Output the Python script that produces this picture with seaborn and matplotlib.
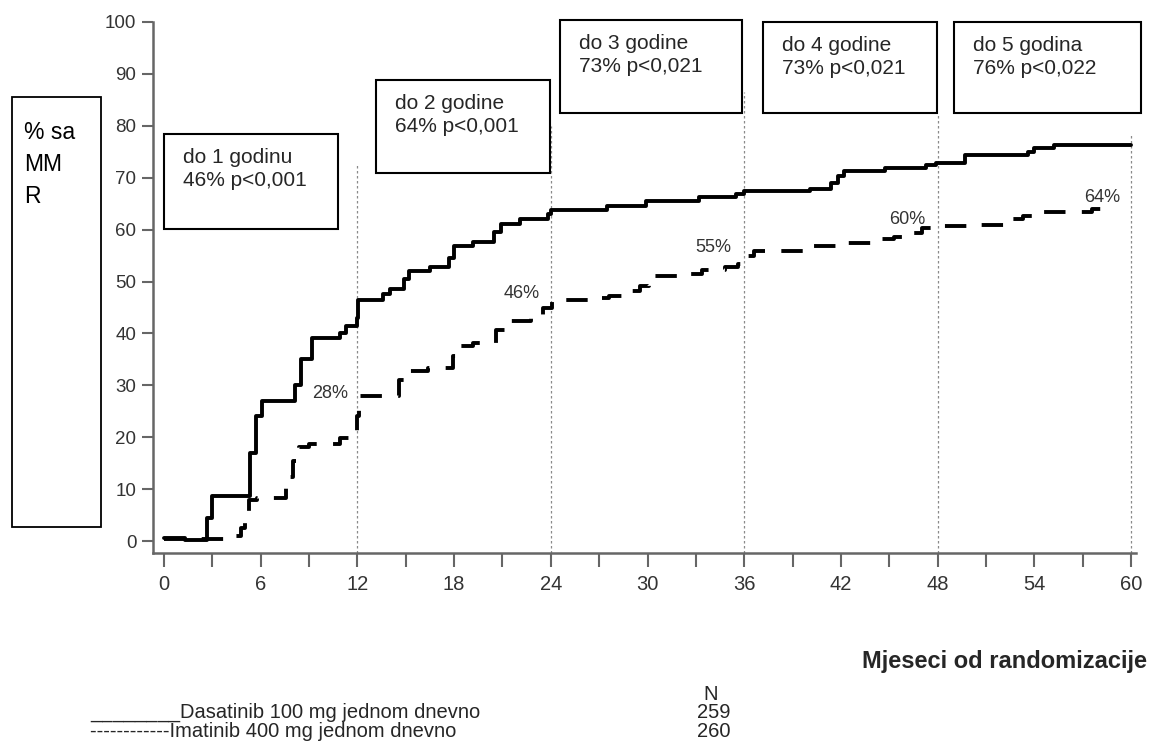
#!/usr/bin/env python3
"""MMR curve, dasatinib vs imatinib, recreated with seaborn."""

import matplotlib

matplotlib.use("Agg")
import matplotlib.pyplot as plt
from matplotlib.patches import Rectangle
import pandas as pd
import seaborn as sns

W, H = 1151, 744

# step curve (months, % with MMR)
das_months = [0, 1.3, 2.7, 3.0, 5.35, 5.7, 6.1, 8.1, 8.5, 9.2, 10.9, 11.3,
              11.95, 12.05, 13.6, 14.0, 14.9, 15.2, 16.5, 17.7, 18.0, 19.2,
              20.5, 20.9, 22.1, 23.8, 24.0, 27.5, 29.9, 33.2, 35.5, 36.0,
              40.1, 41.4, 41.8, 42.2, 44.7, 47.3, 47.9, 49.7, 53.6, 54.0,
              55.2, 60.0]
das_pct = [0.5, 0.2, 4.5, 8.6, 17.0, 24.0, 26.9, 30.0, 35.0, 39.1, 40.1, 41.4,
           43.0, 46.5, 47.5, 48.6, 50.5, 52.0, 52.8, 54.5, 56.8, 57.6,
           59.5, 61.1, 62.0, 63.0, 63.7, 64.5, 65.5, 66.3, 66.8, 67.4,
           67.9, 69.0, 70.3, 71.2, 71.8, 72.4, 72.9, 74.3, 75.0, 75.8,
           76.3, 76.3]

ima_months = [0, 4.3, 4.8, 5.0, 5.3, 5.8, 7.6, 8.0, 8.4, 9.0, 10.9, 11.6,
              12.0, 12.1, 14.6, 15.2, 16.4, 17.9, 18.4, 19.2, 20.6, 21.2,
              22.8, 23.5, 24.1, 26.9, 27.6, 28.8, 29.5, 30.1, 32.7, 33.4,
              34.8, 35.6, 36.0, 36.6, 40.1, 42.2, 44.5, 45.3, 46.3, 47.0,
              48.1, 50.6, 52.7, 53.3, 54.5, 57.6, 58.5]
ima_pct = [0.4, 1.0, 2.5, 5.0, 7.9, 8.3, 12.4, 15.5, 18.2, 18.7, 19.8, 20.8,
           24.0, 28.0, 31.1, 32.7, 33.3, 35.6, 37.5, 38.2, 40.7, 42.3,
           43.5, 44.9, 46.4, 46.8, 47.2, 48.1, 49.1, 51.0, 51.4, 52.3,
           52.8, 53.3, 54.9, 55.8, 56.8, 57.5, 58.1, 58.6, 59.4, 60.4,
           60.7, 60.9, 62.0, 62.7, 63.3, 63.9, 63.9]

checkpoints = [12, 24, 36, 48, 60]
checkpoint_tops = [72.4, 80.0, 86.5, 82.0, 78.5]

box_titles = ["do 1 godinu", "do 2 godine", "do 3 godine", "do 4 godine", "do 5 godina"]
box_stats = ["46% p<0,001", "64% p<0,001", "73% p<0,021", "73% p<0,021", "76% p<0,022"]

ima_labels = ["28%", "46%", "55%", "60%", "64%"]
ima_label_months = [10.3, 22.2, 34.1, 46.1, 58.2]
ima_label_pct = [28.5, 47.6, 56.6, 61.9, 66.2]

arms = ["Dasatinib 100 mg jednom dnevno", "Imatinib 400 mg jednom dnevno"]
arm_n = ["259", "260"]

# box rectangles in picture pixels: left, top, right, bottom
box_px = [(164, 134, 338, 229), (376, 80, 550, 173), (560, 20, 742, 113),
          (763, 22, 937, 113), (954, 22, 1141, 113)]


def fx(x):
    return x / W


def fy(y):
    return 1 - y / H


df = pd.concat([
    pd.DataFrame({"month": das_months, "pct": das_pct, "arm": "Dasatinib"}),
    pd.DataFrame({"month": ima_months, "pct": ima_pct, "arm": "Imatinib"}),
], ignore_index=True)

sns.set_style("ticks")
plt.rcParams["font.family"] = ["Liberation Sans", "DejaVu Sans"]

fig = plt.figure(figsize=(W / 100, H / 100), dpi=100)
ax = fig.add_axes([fx(153), fy(553), fx(1136) - fx(153), fy(22) - fy(553)])

ax.vlines(checkpoints, -2.3, checkpoint_tops, colors="#8a8a8a",
          linestyles=(0, (2, 2)), linewidth=0.9, zorder=1)

sns.lineplot(
    data=df, x="month", y="pct", hue="arm", style="arm",
    palette={"Dasatinib": "black", "Imatinib": "black"},
    dashes={"Dasatinib": "", "Imatinib": (5.5, 4.2)},
    drawstyle="steps-post", linewidth=2.8, estimator=None, sort=False,
    legend=False, ax=ax, zorder=3,
)

for m, p, lab in zip(ima_label_months, ima_label_pct, ima_labels):
    ax.text(m, p, lab, ha="center", va="center", fontsize=13, color="#333333")

ax.set_xlim(-0.68, 60.3)
ax.set_ylim(-2.31, 100)
ax.set_xticks(range(0, 61, 3))
ax.set_xticklabels([str(m) if m % 6 == 0 else "" for m in range(0, 61, 3)])
ax.set_yticks(range(0, 101, 10))
ax.tick_params(axis="x", length=10, width=1.5, color="#666666", labelsize=14.5,
               labelcolor="#333333", pad=6)
ax.tick_params(axis="y", length=8, width=1.5, color="#666666", labelsize=13.5,
               labelcolor="#333333", pad=4)
ax.set_xlabel("")
ax.set_ylabel("")
sns.despine(ax=ax)
for side in ("left", "bottom"):
    ax.spines[side].set_color("#666666")
    ax.spines[side].set_linewidth(1.8)

# y label box
fig.patches.append(Rectangle((fx(12), fy(527)), fx(101) - fx(12), fy(97) - fy(527),
                             transform=fig.transFigure, fill=False,
                             edgecolor="black", linewidth=1.3))
fig.text(fx(24), fy(121), "% sa\nMM\nR", ha="left", va="top", fontsize=16.5,
         linespacing=1.5, color="black")

# yearly result boxes
for (x0, y0, x1, y1), title, stat in zip(box_px, box_titles, box_stats):
    fig.patches.append(Rectangle((fx(x0), fy(y1)), fx(x1) - fx(x0), fy(y0) - fy(y1),
                                 transform=fig.transFigure, facecolor="white",
                                 edgecolor="black", linewidth=1.5, zorder=5))
    fig.text(fx(x0 + 19), fy(y0 + 29), title, ha="left", va="baseline",
             fontsize=15, zorder=6)
    fig.text(fx(x0 + 19), fy(y0 + 52.5), stat, ha="left", va="baseline",
             fontsize=15, zorder=6)

fig.text(fx(1147), fy(668), "Mjeseci od randomizacije", ha="right",
         va="baseline", fontsize=17, fontweight="bold")
fig.text(fx(711), fy(700), "N", ha="center", va="baseline", fontsize=14.5)
fig.text(fx(90), fy(718), "________" + arms[0], ha="left", va="baseline",
         fontsize=14.5)
fig.text(fx(90), fy(737), "------------" + arms[1], ha="left", va="baseline",
         fontsize=14.5)
fig.text(fx(697), fy(718), arm_n[0], ha="left", va="baseline", fontsize=14.5)
fig.text(fx(697), fy(737), arm_n[1], ha="left", va="baseline", fontsize=14.5)

fig.savefig("out.png", dpi=100)
